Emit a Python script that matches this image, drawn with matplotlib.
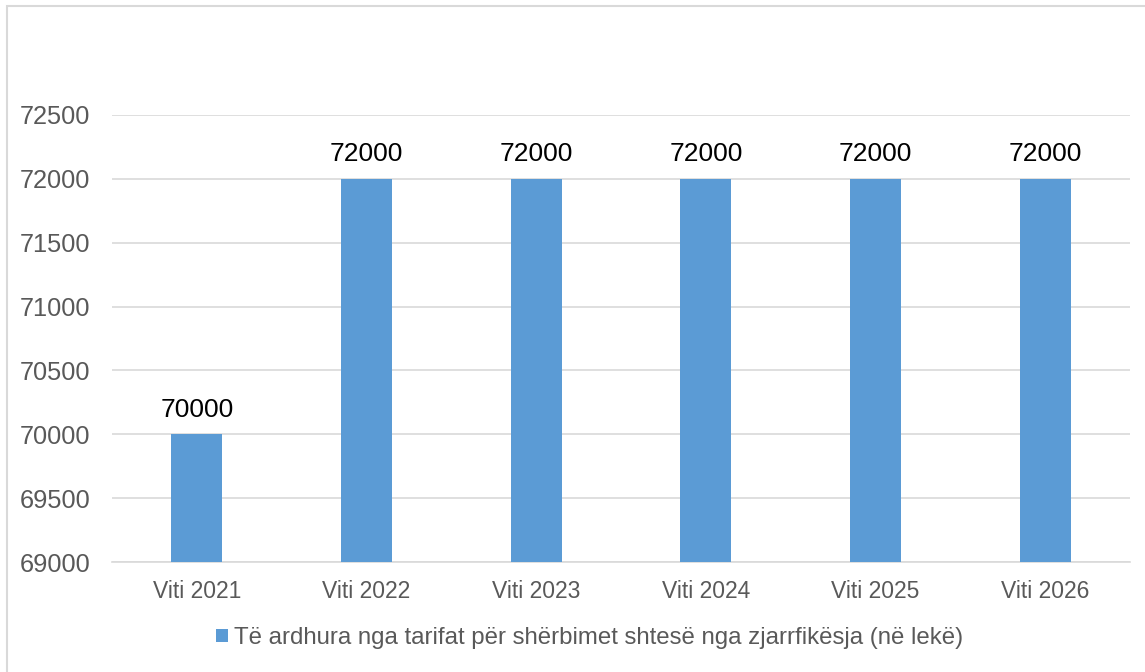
import matplotlib.pyplot as plt
from matplotlib.patches import Rectangle

plt.rcParams['font.family'] = ['Liberation Sans', 'DejaVu Sans']

categories = ["Viti 2021", "Viti 2022", "Viti 2023", "Viti 2024", "Viti 2025", "Viti 2026"]
values = [70000, 72000, 72000, 72000, 72000, 72000]
series_name = "Të ardhura nga tarifat për shërbimet shtesë nga zjarrfikësja (në lekë)"
yticks = [69000, 69500, 70000, 70500, 71000, 71500, 72000, 72500]

fig = plt.figure(figsize=(11.45, 6.72), dpi=100)
fig.patches.append(Rectangle((7 / 1145, -0.01), 1.1, 1 - 6 / 672 + 0.01,
                             transform=fig.transFigure, fill=False,
                             edgecolor="#D9D9D9", linewidth=1.5))
ax = fig.add_axes([112 / 1145, 1 - 562 / 672, 1018 / 1145, 447 / 672])

x = range(len(categories))
bars = ax.bar(x, values, width=0.3, color="#5B9BD5", zorder=3, label=series_name)
for b, v in zip(bars, values):
    ax.text(b.get_x() + b.get_width() / 2, v + 100, str(v), ha="center", va="bottom",
            fontsize=19, color="black")

ax.set_xlim(-0.5, len(categories) - 0.5)
ax.set_ylim(69000, 72500)
ax.set_yticks(yticks)
ax.set_xticks(list(x))
ax.set_xticklabels(categories)
ax.grid(axis="y", color="#D9D9D9", linewidth=1.2, zorder=0)
ax.tick_params(axis="both", length=0, labelcolor="#595959")
ax.tick_params(axis="x", pad=13, labelsize=16.5)
ax.tick_params(axis="y", pad=15.5, labelsize=18.3)
for s in ["top", "right", "left"]:
    ax.spines[s].set_visible(False)
ax.spines["bottom"].set_color("#D9D9D9")
ax.spines["bottom"].set_linewidth(1.2)

leg = fig.legend(loc="center", bbox_to_anchor=(590 / 1145, 1 - 638 / 672), frameon=False,
                 fontsize=17.3, handlelength=0.5, handleheight=0.5, handletextpad=0.25)
for t in leg.get_texts():
    t.set_color("#595959")

fig.savefig("out.png", dpi=100)
